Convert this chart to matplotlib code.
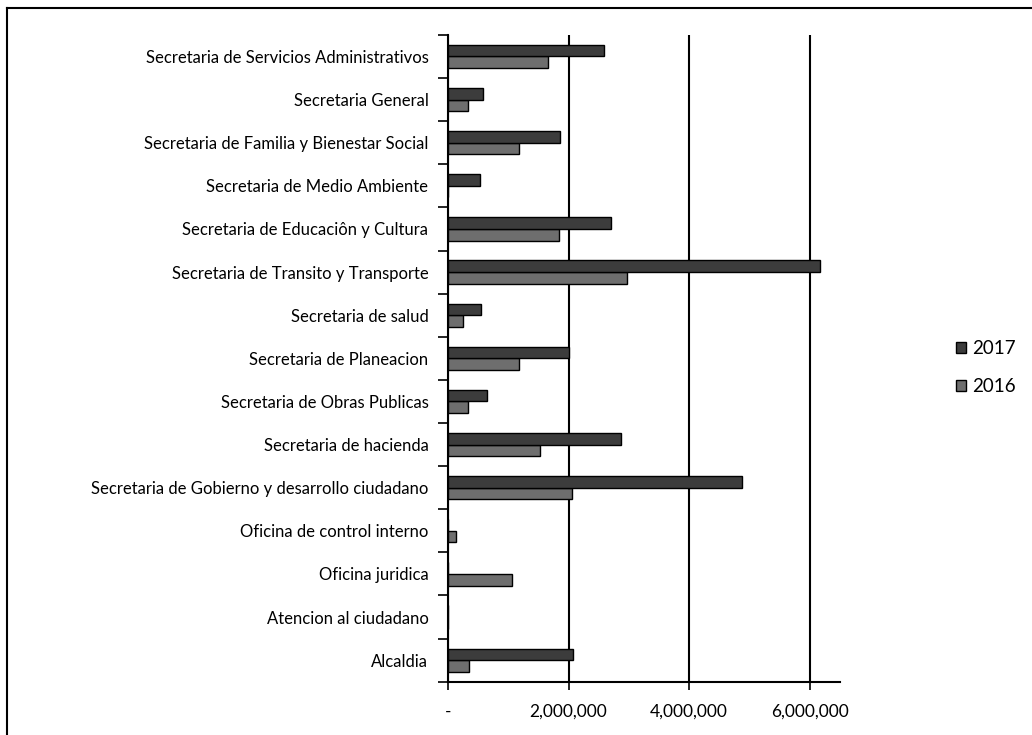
import matplotlib
matplotlib.use("Agg")
import matplotlib.pyplot as plt
from matplotlib.lines import Line2D
from matplotlib.ticker import FuncFormatter
import numpy as np

plt.rcParams['font.family'] = ['Lato', 'DejaVu Sans']

categories = [
    "Alcaldia",
    "Atencion al ciudadano",
    "Oficina juridica",
    "Oficina de control interno",
    "Secretaria de Gobierno y desarrollo ciudadano",
    "Secretaria de hacienda",
    "Secretaria de Obras Publicas",
    "Secretaria de Planeacion",
    "Secretaria de salud",
    "Secretaria de Transito y Transporte",
    "Secretaria de Educaciôn y Cultura",
    "Secretaria de Medio Ambiente",
    "Secretaria de Familia y Bienestar Social",
    "Secretaria General",
    "Secretaria de Servicios Administrativos",
]
vals_2016 = [350000, 0, 1070000, 130000, 2050000, 1520000, 337000, 1180000,
             254000, 2970000, 1845000, 0, 1180000, 337000, 1660000]
vals_2017 = [2080000, 0, 0, 0, 4880000, 2870000, 640000, 2010000,
             547000, 6160000, 2710000, 530000, 1856000, 575000, 2585000]

fig = plt.figure(figsize=(10.32, 7.35), dpi=100)
ax = fig.add_axes([0.434, 0.0725, 0.38, 0.88])

y = np.arange(len(categories))
h = 0.27
ax.barh(y - h / 2, vals_2016, height=h, color="#6e6e6e", edgecolor="black",
        linewidth=1.0, label="2016", zorder=3)
ax.barh(y + h / 2, vals_2017, height=h, color="#3c3c3c", edgecolor="black",
        linewidth=1.0, label="2017", zorder=3)

ax.set_ylim(-0.5, len(categories) - 0.5)
ax.set_xlim(0, 6500000)
ax.set_xticks([0, 2000000, 4000000, 6000000])
ax.xaxis.set_major_formatter(FuncFormatter(lambda v, p: "-" if v == 0 else f"{v:,.0f}"))
ax.grid(axis="x", color="black", linewidth=1.5, zorder=1)

ax.set_yticks(y)
ax.set_yticklabels(categories)
ax.set_yticks(np.arange(-0.5, len(categories)), minor=True)
ax.tick_params(axis="y", which="major", length=0, pad=14, labelsize=12)
ax.tick_params(axis="y", which="minor", length=7, width=1.2, direction="out")
ax.tick_params(axis="x", length=6, width=1.2, pad=10, labelsize=12.5)

for s in ["top", "right"]:
    ax.spines[s].set_visible(False)
ax.spines["left"].set_linewidth(1.5)
ax.spines["bottom"].set_linewidth(1.5)

handles, labels = ax.get_legend_handles_labels()
fig.legend(handles[::-1], labels[::-1], loc="center left",
           bbox_to_anchor=(0.91, 0.5), frameon=False, fontsize=13.5,
           handlelength=0.55, handleheight=0.55, labelspacing=1.1,
           handletextpad=0.3)

# scanned page frame
fig.add_artist(Line2D([0.007, 0.007], [0.0, 0.989], color="black", linewidth=1.5,
                      transform=fig.transFigure))
fig.add_artist(Line2D([0.007, 1.0], [0.989, 0.989], color="black", linewidth=1.5,
                      transform=fig.transFigure))

fig.savefig("out.png", dpi=100)
